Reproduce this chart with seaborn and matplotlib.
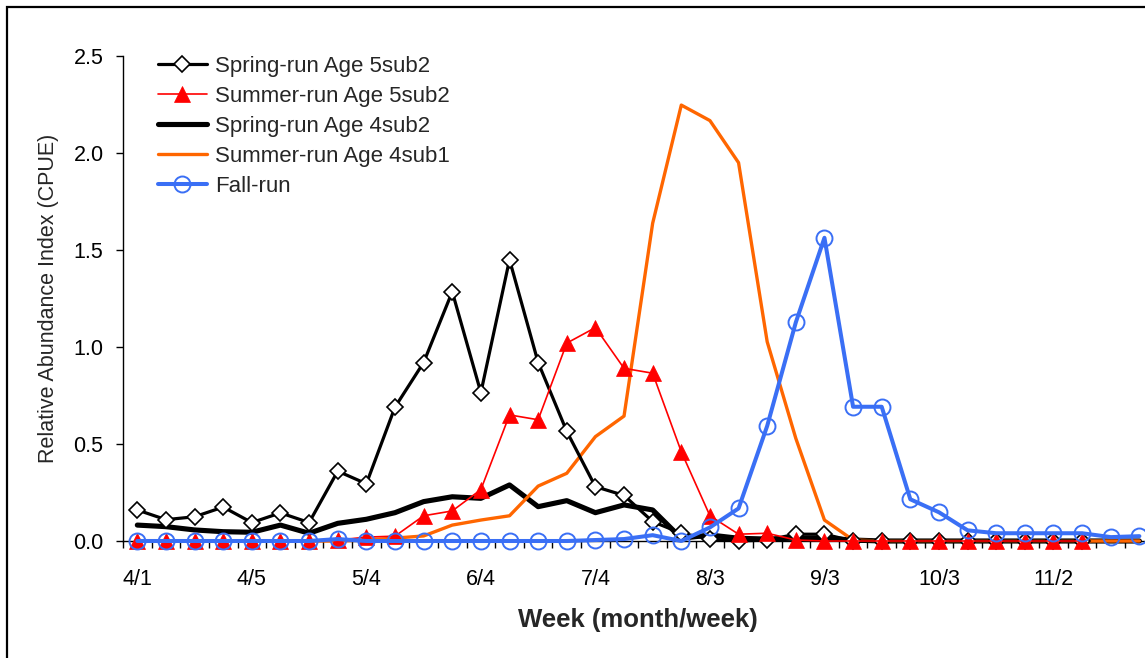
import numpy as np
import matplotlib
import matplotlib.pyplot as plt
import seaborn as sns
from matplotlib.ticker import FixedLocator, FormatStrFormatter
from matplotlib.patches import Rectangle
matplotlib.use('Agg')

# week categories (month/week)
weeks = ["4/1", "4/2", "4/3", "4/4", "4/5", "5/1", "5/2", "5/3", "5/4",
         "6/1", "6/2", "6/3", "6/4", "7/1", "7/2", "7/3", "7/4", "7/5",
         "8/1", "8/2", "8/3", "8/4", "9/1", "9/2", "9/3", "9/4",
         "10/1", "10/2", "10/3", "10/4", "10/5", "11/1", "11/2", "11/3", "11/4", "11/5"]
nan = np.nan

spring5 = [0.16, 0.11, 0.125, 0.175, 0.095, 0.145, 0.095, 0.36, 0.295, 0.69, 0.92, 1.285,
           0.765, 1.45, 0.92, 0.565, 0.28, 0.235, 0.10, 0.04, 0.01, 0.0, 0.005, 0.035,
           0.035, 0.0, 0.0, 0.0, 0.0, 0.0, 0.0, 0.0, 0.0, 0.0, nan, nan]
summer5 = [0.0, 0.0, 0.0, 0.0, 0.0, 0.0, 0.0, 0.005, 0.02, 0.025, 0.13, 0.155,
           0.265, 0.65, 0.625, 1.02, 1.10, 0.89, 0.865, 0.46, 0.13, 0.035, 0.04, 0.005,
           0.0, 0.0, 0.0, 0.0, 0.0, 0.0, 0.0, 0.0, 0.0, 0.0, nan, nan]
spring4 = [0.082, 0.074, 0.057, 0.048, 0.045, 0.082, 0.04, 0.091, 0.112, 0.146, 0.203, 0.228,
           0.22, 0.289, 0.177, 0.208, 0.146, 0.186, 0.16, 0.014, 0.031, 0.014, 0.01, 0.015,
           0.015, 0.005, 0.0, 0.0, 0.0, 0.0, 0.0, 0.0, 0.0, 0.0, 0.0, 0.0]
summer4 = [0.0, 0.0, 0.0, 0.0, 0.0, 0.0, 0.0, 0.0, 0.005, 0.015, 0.026, 0.082,
           0.108, 0.13, 0.283, 0.349, 0.538, 0.644, 1.638, 2.247, 2.167, 1.95, 1.027, 0.529,
           0.108, 0.005, 0.0, 0.0, 0.0, 0.0, 0.0, 0.0, 0.0, 0.0, 0.0, 0.0]
fall = [0.0, 0.0, 0.0, 0.0, 0.0, 0.0, 0.0, 0.01, 0.0, 0.0, 0.0, 0.0,
        0.0, 0.0, 0.0, 0.0, 0.005, 0.01, 0.03, 0.0, 0.07, 0.168, 0.593, 1.127,
        1.563, 0.692, 0.692, 0.215, 0.148, 0.055, 0.04, 0.04, 0.04, 0.04, 0.02, 0.025]

labels = ["Spring-run Age 5sub2", "Summer-run Age 5sub2", "Spring-run Age 4sub2",
          "Summer-run Age 4sub1", "Fall-run"]

sns.set_style("ticks")
plt.rcParams['font.family'] = ['Liberation Sans', 'DejaVu Sans']

fig = plt.figure(figsize=(11.45, 6.58), dpi=100)
ax = fig.add_axes([123/1145, 117/658, 1030.7/1145, 485/658])
x = np.arange(len(weeks))

# thick lines first, marker series on top
sns.lineplot(x=x, y=spring4, ax=ax, color='black', lw=3.7, label=labels[2], zorder=2, clip_on=False)
sns.lineplot(x=x, y=summer4, ax=ax, color='#FF6600', lw=2.4, label=labels[3], zorder=3, clip_on=False)
sns.lineplot(x=x, y=spring5, ax=ax, color='black', lw=2.3, marker='D', ms=8.5,
             mfc='white', mec='black', mew=1.2, label=labels[0], zorder=4, clip_on=False)
sns.lineplot(x=x, y=summer5, ax=ax, color='#FF0000', lw=1.2, marker='^', ms=12,
             mfc='#FF0000', mec='#FF0000', mew=0.5, label=labels[1], zorder=5, clip_on=False)
sns.lineplot(x=x, y=fall, ax=ax, color='#3A6FF5', lw=2.9, marker='o', ms=11.5,
             mfc='none', mec='#3A6FF5', mew=1.4, label=labels[4], zorder=6, clip_on=False)

ax.set_xlim(-0.5, len(weeks) - 0.5)
ax.set_ylim(0, 2.5)
ax.set_yticks(np.arange(0, 2.51, 0.5))
ax.yaxis.set_major_formatter(FormatStrFormatter('%.1f'))
ax.set_xticks(x[::4])
ax.set_xticklabels(weeks[::4])
ax.xaxis.set_minor_locator(FixedLocator(np.arange(-0.5, len(weeks), 1)))
ax.tick_params(axis='x', which='major', length=0, pad=20, labelsize=15.5, colors='black')
ax.tick_params(axis='x', which='minor', length=5, width=1, direction='out', color='black')
ax.tick_params(axis='y', length=5, width=1, direction='out', pad=9, labelsize=15.5, colors='black')
for s in ['top', 'right']:
    ax.spines[s].set_visible(False)
for s in ['left', 'bottom']:
    ax.spines[s].set_color('black')
    ax.spines[s].set_linewidth(1)

ax.set_xlabel("Week (month/week)", fontsize=18.5, fontweight='bold', labelpad=13)
ax.set_ylabel("Relative Abundance Index (CPUE)", fontsize=15.5, labelpad=10)

handles, labs = ax.get_legend_handles_labels()
order = [labs.index(l) for l in labels]
ax.legend([handles[i] for i in order], labels, loc='upper left',
          bbox_to_anchor=(158/1145, 1 - 56/658), bbox_transform=fig.transFigure,
          frameon=False, fontsize=16, handlelength=2.2, handletextpad=0.35,
          labelspacing=0.4, borderpad=0, borderaxespad=0)

# outer chart border (cut off on the right and bottom)
fig.patches.append(Rectangle((7/1145, -0.5), 2, 1.5 - 7/658, transform=fig.transFigure,
                             fill=False, lw=1.6, edgecolor='black'))

plt.savefig('out.png', dpi=100)
